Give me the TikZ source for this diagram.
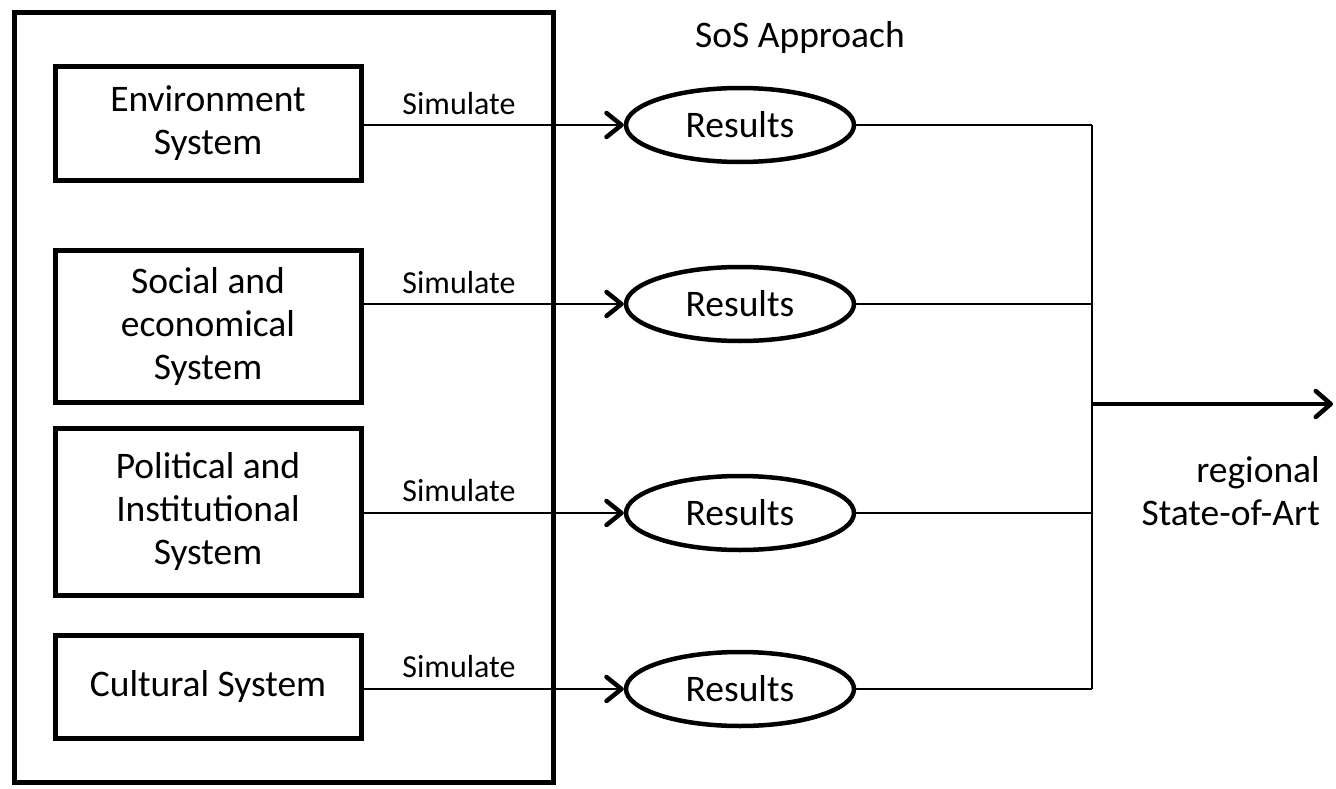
\documentclass[tikz,border=0pt]{standalone}
\usepackage{fontspec}
\setmainfont{Carlito}
\usetikzlibrary{arrows.meta,shapes.geometric,shadows}
\begin{document}
\begin{tikzpicture}[x=1pt,y=-1pt,
  mainfont/.style={font=\fontsize{37.5}{43}\selectfont},
  sysbox/.style={draw, line width=5pt, fill=white, minimum width=306pt, align=center,
    inner sep=0pt, mainfont, drop shadow={opacity=0.3, shadow xshift=2pt, shadow yshift=-3pt}},
  resell/.style={ellipse, draw, line width=4.5pt, fill=white, minimum width=228pt,
    minimum height=74pt, inner sep=0pt, mainfont},
  simlabel/.style={font=\fontsize{32}{36}\selectfont, inner sep=0pt},
  conn/.style={line width=1.8pt},
  simarrow/.style={line width=1.8pt, -{Straight Barb[length=15pt, width=24pt, line width=4.5pt, round]}},
  outarrow/.style={line width=4pt, -{Straight Barb[length=15pt, width=26pt, line width=4.5pt, round]}}
]
\useasboundingbox (0,0) rectangle (1336,789);

% outer frame
\node (frame) [draw, line width=5pt, minimum width=539pt, minimum height=769pt, inner sep=0pt]
  at (283.5,397.5) {};

% system boxes
\node (env) [sysbox, minimum height=113pt] at (208,123.5) {Environment\\System};
\node (soc) [sysbox, minimum height=152pt] at (208,326) {Social and\\economical\\System};
\node (pol) [sysbox, minimum height=167pt] at (208,511.5) {Political and\\Institutional\\System};
\node (cul) [sysbox, minimum height=103pt] at (208,686.5) {Cultural System};

% results ellipses
\node (r1) [resell] at (740,125) {Results};
\node (r2) [resell] at (740,304) {Results};
\node (r3) [resell] at (740,513) {Results};
\node (r4) [resell] at (740,689) {Results};

% simulate arrows
\draw[simarrow] (env.east |- r1) -- (r1.west);
\draw[simarrow] (soc.east |- r2) -- (r2.west);
\draw[simarrow] (pol.east |- r3) -- (r3.west);
\draw[simarrow] (cul.east |- r4) -- (r4.west);

\node (s1) [simlabel] at (459,104) {Simulate};
\node (s2) [simlabel] at (459,283) {Simulate};
\node (s3) [simlabel] at (459,491) {Simulate};
\node (s4) [simlabel] at (459,667) {Simulate};

% collector
\coordinate (j1) at (1092,125);
\coordinate (j2) at (1092,304);
\coordinate (j3) at (1092,513);
\coordinate (j4) at (1092,689);
\coordinate (jm) at (1092,404);
\coordinate (out) at (1333,404);

\draw[conn] (r1.east) -- (j1);
\draw[conn] (r2.east) -- (j2);
\draw[conn] (r3.east) -- (j3);
\draw[conn] (r4.east) -- (j4);
\draw[conn] (j1) -- (j4);
\draw[outarrow] (jm) -- (out);

% labels
\node (sos) [mainfont, inner sep=0pt] at (800,38) {SoS Approach};
\node (reg) [mainfont, align=right, anchor=east, inner sep=0pt] at (1320,491) {regional\\State-of-Art};
\end{tikzpicture}
\end{document}
